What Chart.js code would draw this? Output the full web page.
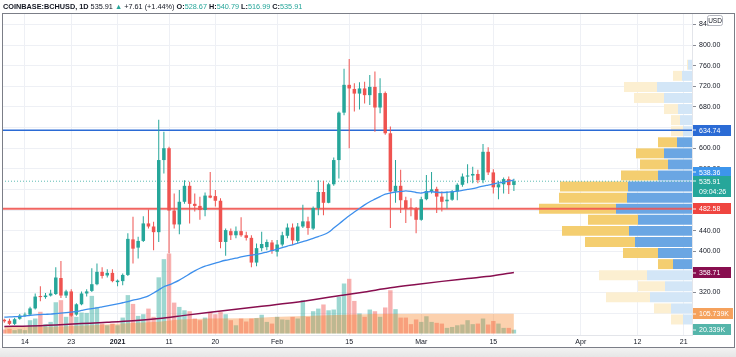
<!DOCTYPE html>
<html><head><meta charset="utf-8">
<script src="https://cdn.jsdelivr.net/npm/chart.js"></script>
<style>
html,body{margin:0;padding:0;background:#fff;width:736px;height:357px;overflow:hidden;}
#wrap{position:relative;width:736px;height:357px;}
#c{position:absolute;left:0;top:0;}
#hdr{position:absolute;left:3px;top:1px;font:7.3px "Liberation Sans",Arial,sans-serif;color:#131722;white-space:nowrap;line-height:11px;}
#hdr b{font-weight:bold;}
#hdr .t{color:#26a69a;}
#frame{position:absolute;left:2px;top:13px;width:733px;height:335px;border:1px solid #7b7e87;box-sizing:border-box;pointer-events:none;}
#foot{position:absolute;left:0;top:348px;width:736px;height:9px;background:linear-gradient(#f3f3f3,#e6e6e6);}
</style></head>
<body><div id="wrap">
<canvas id="c" width="736" height="357"></canvas>
<div id="foot"></div>
<div id="frame"></div>
<div id="hdr"></div>
</div>
<script>
// ---------- data ----------
const symbol = 'COINBASE:BCHUSD';
const interval = '1D';
const countdown = '09:04:26';
// day index 0 = 2020-12-10 ... 99 = 2021-03-19
const open = [
267,265,259,269,275,277,289,313,311,314,
317,348,314,322,277,297,318,323,336,360,
353,358,340,342,354,423,407,420,454,448,
437,577,600,479,452,496,527,492,488,480,
508,507,498,418,439,431,439,431,426,378,
406,408,417,399,413,430,446,420,448,458,
444,484,515,494,530,577,669,723,715,706,
716,703,719,679,707,629,516,527,499,485,
483,461,501,517,521,506,497,500,516,529,
545,547,550,538,593,553,524,530,540,528.67];
const high = [
269,269,271,278,281,292,318,332,319,325,
369,381,325,326,299,322,326,367,376,369,
365,365,345,357,435,467,428,468,481,457,
655,632,603,512,519,538,535,512,506,514,
554,519,503,444,444,448,466,438,431,415,
438,423,422,422,438,454,454,455,490,467,
487,538,537,533,582,671,754,773,726,728,
729,742,749,736,710,642,577,558,506,503,
486,506,548,554,525,516,516,519,532,551,
569,564,558,608,602,559,537,543,545,540.79];
const low = [
261,257,257,267,273,275,287,303,308,312,
315,309,309,273,275,295,312,321,334,347,
349,340,332,334,352,376,386,418,444,402,
418,551,396,444,433,492,454,477,461,468,
503,487,406,391,422,425,428,421,369,371,
400,402,395,390,409,425,412,415,445,432,
441,470,470,493,527,541,664,600,671,675,
687,684,632,668,626,445,494,474,455,468,
435,459,499,512,474,477,483,498,499,525,
532,532,532,532,548,512,501,512,511,516.99];
const close = [
264,259,268,275,277,289,312,311,314,318,
349,314,322,275,297,318,322,336,360,352,
358,342,343,354,424,405,420,454,448,437,
577,600,479,452,496,527,492,488,480,508,
504,498,418,441,431,439,431,426,378,406,
414,418,401,413,431,446,421,448,458,445,
484,515,494,530,577,669,723,716,706,716,
703,719,679,707,629,516,527,499,482,483,
461,501,517,520,506,496,500,516,529,545,
547,550,538,593,553,524,530,540,528.30,535.91];
// volume in thousands
const volume = [
21,25,18,23,18,71,80,116,50,62,
167,178,89,116,89,112,110,201,142,53,
44,53,44,85,205,158,94,103,133,89,
300,397,427,165,142,124,119,80,71,85,
115,103,115,103,71,44,80,64,80,82,
100,62,53,89,75,73,89,80,178,89,
119,133,155,124,128,196,267,292,174,107,
89,128,119,89,139,231,130,85,85,50,
75,62,92,62,57,53,30,35,44,48,
71,50,53,80,48,67,53,30,30,20.339];
// blue moving average, one reading per day
const maBlue = [
272,272.5,273,273.5,274,275.5,276.5,277,277.5,278,
279,280,281,282,283,285,287,288.5,290,292,
294,296,298,300,302,305,307,310,313.5,319,
325,331,334.5,339,344,350,356,362,367,371,
374,377,380,382.5,384.5,386.5,389,391,392.5,394,
396,398.5,401,404,407,410,412.5,415.5,418.5,421.5,
425,428.5,432,437,445,453,461,469,476,483,
490,496,501,506,511,513,515,516,517,516,
514,513,515,515.5,514.5,514,514.5,515.5,516.5,518,
520,521.5,524,526.5,528.5,530.5,532.5,534,536,538.36];
// maroon long moving average, readings at these days
const maLongDays = [0,5,10,15,20,25,30,35,40,45,50,55,60,65,70,75,80,85,90,95,99];
const maLong = [254,255,257,259.5,262,265,269.5,275.5,281.5,287.5,293,299,306,313.5,321,329,335.5,341.5,347,352.5,358.71];
// volume moving average (K), readings at these days
const volMaDays = [0,10,18,22,26,30,34,40,48,52,60,66,72,80,90,99];
const volMa = [35,36,45,52,57,63,75,80,82,88,95,100,104,106,106,105.739];
// horizontal levels
const levelBlue = 634.74;
const levelRed = 482.58;
// volume profile rows (row mid price), up / down volume per row
const profileRowPrices = [267.5,289,310.5,332,353.5,375,396.5,418,439.5,461,482.5,504,525.5,547,568.5,590,611.5,633,654.5,676,697.5,719,740.5,762];
const profileUp   = [54,126,252,162,270,114,204,342,378,324,456,390,384,204,144,168,90,54,72,84,168,210,60,24];
const profileDown = [72,102,264,162,288,90,210,300,402,300,462,408,408,222,168,168,114,72,54,84,180,198,54,6];
const valueAreaRows = [5, 16];
// axis ticks
const tickDays = [4,13,22,32,41,53,67,81,95,112,123,132];
const tickLabels = ['14','23','2021','11','20','Feb','15','Mar','15','Apr','12','21'];
const priceTicks = [280,320,360,400,440,480,520,560,600,640,680,720,760,800,840];

// ---------- view settings ----------
const X_MIN = -0.45, X_MAX = 133.6;
const Y_MIN = 237.4, Y_MAX = 860.5;
const V_MIN = -8, V_MAX = 1706;
const P_MAX = 4140;

const UP = '#26a69a', DN = '#ef5350';
const FONT = '"Liberation Sans", Arial, sans-serif';
Chart.defaults.font.family = FONT;
Chart.defaults.font.size = 7;

const last = close.length - 1;
const idx = close.map((_, i) => i);
const isUp = i => close[i] >= open[i];
const inVA = k => k >= valueAreaRows[0] && k <= valueAreaRows[1];

// header
(function(){
  const chg = close[last] - close[last-1];
  const pct = chg / close[last-1] * 100;
  const sgn = chg >= 0 ? '+' : '';
  document.getElementById('hdr').innerHTML =
    `<b>${symbol}, ${interval}</b> ${close[last].toFixed(2)} <span class="t">${chg>=0?'▲':'▼'}</span> ${sgn}${chg.toFixed(2)} (${sgn}${pct.toFixed(2)}%) ` +
    `<b>O:</b><span class="t">${open[last].toFixed(2)}</span> <b>H:</b><span class="t">${high[last].toFixed(2)}</span> ` +
    `<b>L:</b><span class="t">${low[last].toFixed(2)}</span> <b>C:</b><span class="t">${close[last].toFixed(2)}</span>`;
})();

const labelPlugin = {
  id: 'priceLabels',
  afterDraw(chart) {
    const {ctx, chartArea} = chart;
    const ys = chart.scales.y, yv = chart.scales.yv;
    const x0 = chartArea.right + 1, h = 11;
    ctx.save();
    ctx.font = '7px ' + FONT;
    ctx.textBaseline = 'middle'; ctx.textAlign = 'left';
    function box(yc, color, lines) {
      const w = Math.max(38, Math.max(...lines.map(t => ctx.measureText(t).width)) + 10);
      const hh = h * lines.length - (lines.length > 1 ? 1 : 0);
      const top = yc - h / 2;
      ctx.fillStyle = color;
      ctx.fillRect(x0, Math.round(top), w, hh);
      ctx.fillStyle = 'rgba(255,255,255,0.9)';
      ctx.fillRect(x0, Math.round(yc) - 0.5, 3, 1);
      ctx.fillStyle = '#fff';
      lines.forEach((t, k) => ctx.fillText(t, x0 + 6, yc + 0.5 + k * (h - 1)));
      return top;
    }
    box(ys.getPixelForValue(levelBlue), '#2b6bd5', [levelBlue.toFixed(2)]);
    const curY = ys.getPixelForValue(close[last]);
    const curTop = curY - h / 2;
    let maY = ys.getPixelForValue(maBlue[last]);
    if (maY + h / 2 > curTop + 2) maY = curTop + 2 - h / 2;
    box(maY, '#3d95ec', [maBlue[last].toFixed(2)]);
    box(curY, UP, [close[last].toFixed(2), countdown]);
    box(ys.getPixelForValue(levelRed), '#ef4540', [levelRed.toFixed(2)]);
    box(ys.getPixelForValue(maLong[maLong.length-1]), '#880e4f', [maLong[maLong.length-1].toFixed(2)]);
    box(yv.getPixelForValue(volMa[volMa.length-1]), '#f5a15c', [volMa[volMa.length-1].toFixed(3) + 'K']);
    box(yv.getPixelForValue(volume[last]), '#55b5aa', [volume[last].toFixed(3) + 'K']);
    // currency box
    ctx.fillStyle = '#fff'; ctx.strokeStyle = '#b2b5be'; ctx.lineWidth = 1;
    ctx.beginPath(); ctx.roundRect(707.5, 15.5, 15, 10, 2); ctx.fill(); ctx.stroke();
    ctx.fillStyle = '#131722'; ctx.font = '6.5px ' + FONT; ctx.textAlign = 'center';
    ctx.fillText('USD', 715, 20.8);
    ctx.restore();
  }
};

const hline = (v, color, width, dash) => ({
  type: 'line', data: [{x: X_MIN, y: v}, {x: X_MAX, y: v}], borderColor: color,
  borderWidth: width, borderDash: dash || [], pointRadius: 0, xAxisID: 'x', yAxisID: 'y', order: 12
});

new Chart(document.getElementById('c'), {
  type: 'bar',
  data: {
    datasets: [
      { type: 'bar', indexAxis: 'y', xAxisID: 'xp', yAxisID: 'yp', grouped: false,
        data: profileRowPrices.map((p, k) => ({y: p, x: [0, profileUp[k]]})),
        backgroundColor: c => inVA(c.dataIndex) ? '#6aa6e3' : '#d3e6f7',
        barPercentage: 0.9, categoryPercentage: 1, inflateAmount: 0, order: 30 },
      { type: 'bar', indexAxis: 'y', xAxisID: 'xp', yAxisID: 'yp', grouped: false,
        data: profileRowPrices.map((p, k) => ({y: p, x: [profileUp[k], profileUp[k] + profileDown[k]]})),
        backgroundColor: c => inVA(c.dataIndex) ? '#f4ce70' : '#fcefd1',
        barPercentage: 0.9, categoryPercentage: 1, inflateAmount: 0, order: 30 },
      { type: 'bar', xAxisID: 'x', yAxisID: 'yv', grouped: false,
        data: idx.map(i => ({x: i, y: volume[i]})),
        backgroundColor: c => isUp(c.dataIndex) ? 'rgba(38,166,154,0.45)' : 'rgba(239,83,80,0.45)',
        barPercentage: 0.86, categoryPercentage: 1, inflateAmount: 0, order: 20 },
      { type: 'line', xAxisID: 'x', yAxisID: 'yv',
        data: volMaDays.map((d, k) => ({x: d, y: volMa[k]})),
        borderWidth: 0, pointRadius: 0, fill: 'origin',
        backgroundColor: 'rgba(247,128,30,0.36)', order: 18 },
      hline(close[last], 'rgba(38,166,154,0.75)', 1, [1, 2]),
      hline(levelBlue, '#2b6bd5', 1.4),
      hline(levelRed, 'rgba(240,84,80,0.9)', 2),
      { type: 'bar', xAxisID: 'x', yAxisID: 'y', grouped: false,
        data: idx.map(i => ({x: i, y: [low[i], high[i]]})),
        backgroundColor: c => isUp(c.dataIndex) ? UP : DN,
        maxBarThickness: 1, inflateAmount: 0, order: 8 },
      { type: 'bar', xAxisID: 'x', yAxisID: 'y', grouped: false,
        data: idx.map(i => ({x: i, y: [open[i], close[i]]})),
        backgroundColor: c => isUp(c.dataIndex) ? UP : DN,
        barPercentage: 0.68, categoryPercentage: 1, minBarLength: 1, inflateAmount: 0, order: 7 },
      { type: 'line', xAxisID: 'x', yAxisID: 'y',
        data: maLongDays.map((d, k) => ({x: d, y: maLong[k]})),
        borderColor: '#880e4f', borderWidth: 1.5, pointRadius: 0, cubicInterpolationMode: 'monotone', order: 4 },
      { type: 'line', xAxisID: 'x', yAxisID: 'y',
        data: idx.map(i => ({x: i, y: maBlue[i]})),
        borderColor: '#3d8fec', borderWidth: 1.3, pointRadius: 0, tension: 0.3, order: 3 }
    ]
  },
  options: {
    responsive: false, animation: false, devicePixelRatio: 1,
    layout: { padding: { left: 2, top: 14, right: 0, bottom: 10 } },
    plugins: { legend: { display: false }, tooltip: { enabled: false }, title: { display: false } },
    scales: {
      x: {
        type: 'linear', position: 'bottom', min: X_MIN, max: X_MAX, offset: false,
        afterBuildTicks: s => { s.ticks = tickDays.map(v => ({value: v})); },
        afterFit: s => { s.height = 12; },
        grid: { color: '#eef0f5', drawTicks: false, offset: false },
        border: { display: true, color: '#e3e5ea' },
        ticks: {
          autoSkip: false, maxRotation: 0, padding: 3, color: '#131722',
          font: c => ({ size: 7, family: FONT, weight: (c.tick && c.tick.value === tickDays[tickLabels.indexOf('2021')]) ? 'bold' : 'normal' }),
          callback: v => { const k = tickDays.indexOf(v); return k >= 0 ? tickLabels[k] : ''; }
        }
      },
      y: {
        type: 'linear', position: 'right', min: Y_MIN, max: Y_MAX, offset: false,
        afterBuildTicks: s => { s.ticks = priceTicks.map(v => ({value: v})); },
        afterFit: s => { s.width = 44; },
        grid: { color: '#eef0f5', tickLength: 4, tickColor: '#8a8d96' },
        border: { display: true, color: '#e3e5ea' },
        ticks: { padding: 3, color: '#131722', font: { size: 7 }, callback: v => v.toFixed(2) }
      },
      yv: { type: 'linear', display: false, min: V_MIN, max: V_MAX, offset: false },
      yp: { type: 'linear', display: false, min: Y_MIN, max: Y_MAX, offset: false,
        afterBuildTicks: s => { s.ticks = profileRowPrices.map(v => ({value: v})); } },
      xp: { type: 'linear', display: false, min: 0, max: P_MAX, reverse: true, offset: false, grid: { offset: false } }
    }
  },
  plugins: [labelPlugin]
});
</script>
</body></html>
